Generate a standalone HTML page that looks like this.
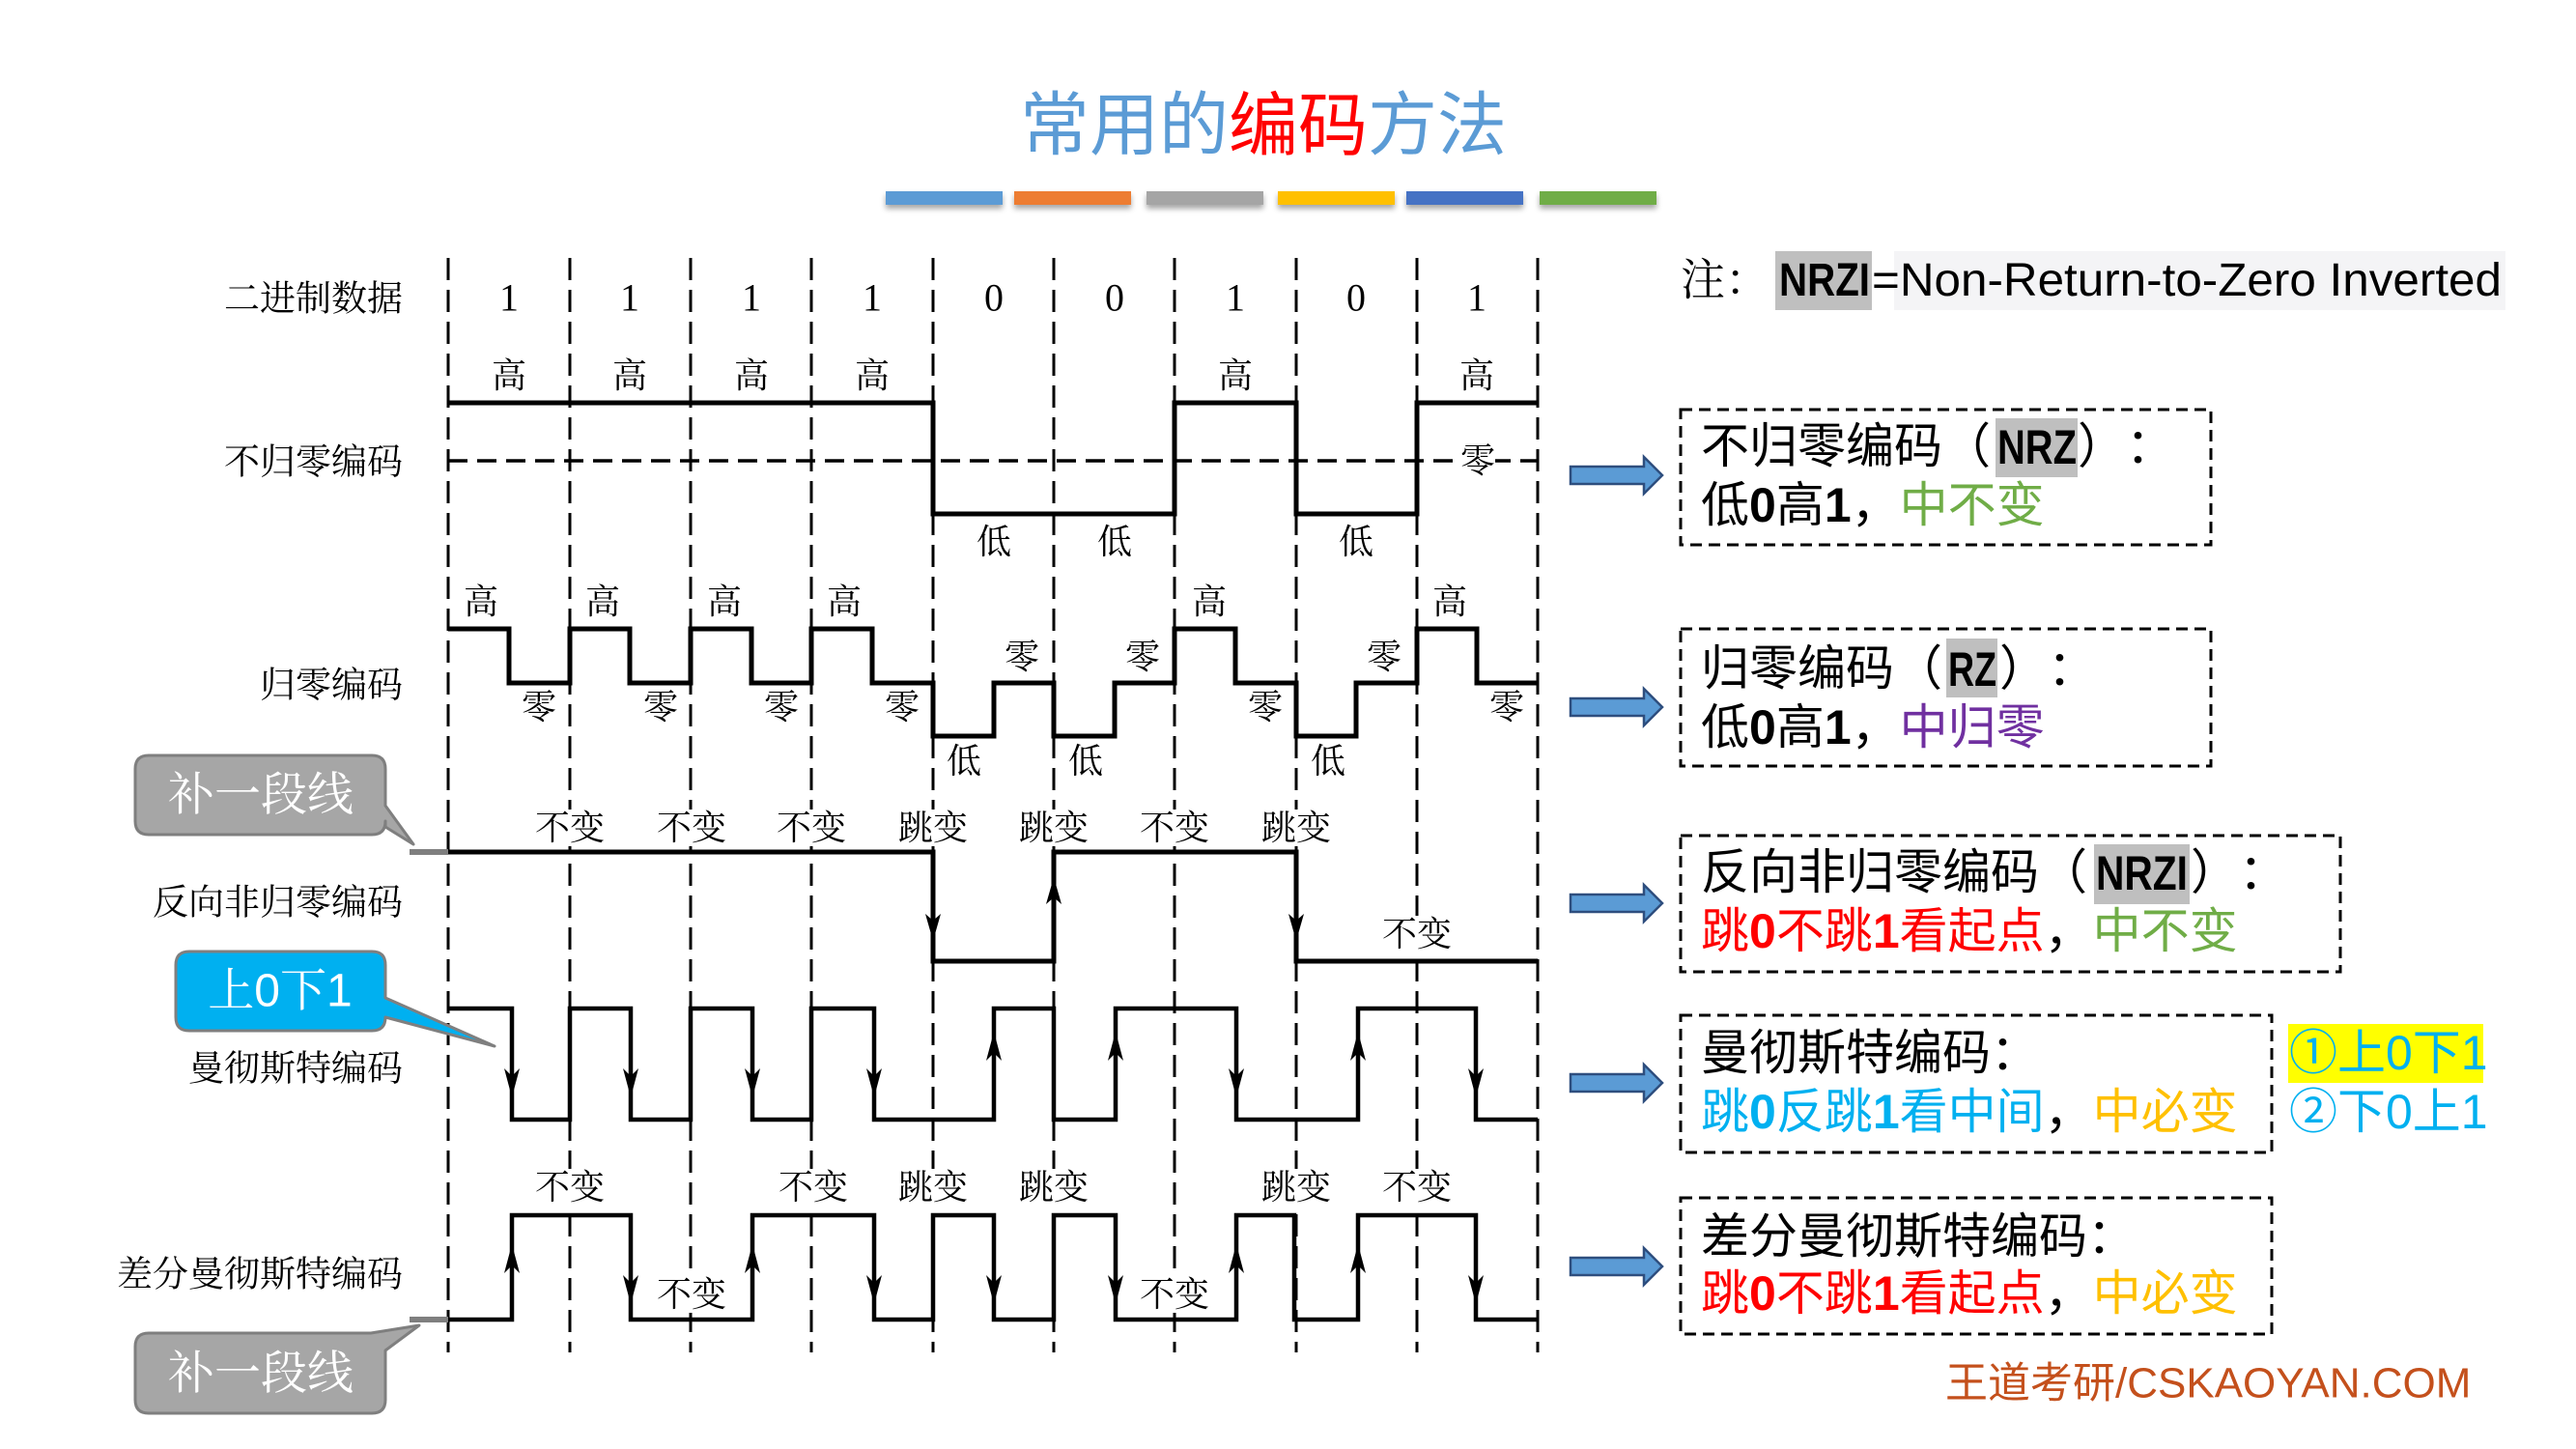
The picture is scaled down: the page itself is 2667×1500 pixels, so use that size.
<!DOCTYPE html>
<html><head><meta charset="utf-8">
<style>
html,body{margin:0;padding:0;background:#fff;}
svg{display:block;}
.lbl{font-family:"Liberation Serif","Noto Serif CJK SC",serif;font-size:37px;fill:#000;}
.wl{font-family:"Liberation Serif","Noto Serif CJK SC",serif;font-size:36px;fill:#000;}
.dg{font-family:"Liberation Serif",serif;font-size:40px;fill:#000;}
.bx{font-family:"Liberation Sans","Noto Sans CJK SC",sans-serif;font-size:50px;fill:#000;}
.b{font-weight:bold;}
</style></head>
<body>
<svg width="2667" height="1500" viewBox="0 0 2667 1500" xmlns="http://www.w3.org/2000/svg">
<defs>
<filter id="sh" x="-10%" y="-50%" width="120%" height="250%">
<feDropShadow dx="0" dy="4" stdDeviation="3" flood-color="#000" flood-opacity="0.35"/>
</filter>
</defs>
<rect width="2667" height="1500" fill="#fff"/>

<!-- Title -->
<text x="1308" y="123" text-anchor="middle" dominant-baseline="central" font-family="'Noto Sans CJK SC',sans-serif" font-size="72" fill="#5B9BD5">常用的<tspan fill="#FF0000">编码</tspan>方法</text>
<g filter="url(#sh)">
<rect x="917" y="198" width="121" height="14" fill="#5B9BD5"/>
<rect x="1050" y="198" width="121" height="14" fill="#ED7D31"/>
<rect x="1187" y="198" width="121" height="14" fill="#A5A5A5"/>
<rect x="1323" y="198" width="121" height="14" fill="#FFC000"/>
<rect x="1456" y="198" width="121" height="14" fill="#4472C4"/>
<rect x="1594" y="198" width="121" height="14" fill="#70AD47"/>
</g>

<!-- Vertical dashed lines -->
<g stroke="#000" stroke-width="3" stroke-dasharray="23 10">
<line x1="464" y1="267" x2="464" y2="1400"/>
<line x1="590" y1="267" x2="590" y2="1400"/>
<line x1="715" y1="267" x2="715" y2="1400"/>
<line x1="840" y1="267" x2="840" y2="1400"/>
<line x1="966" y1="267" x2="966" y2="1400"/>
<line x1="1091" y1="267" x2="1091" y2="1400"/>
<line x1="1216" y1="267" x2="1216" y2="1400"/>
<line x1="1342" y1="267" x2="1342" y2="1400"/>
<line x1="1467" y1="267" x2="1467" y2="1400"/>
<line x1="1592" y1="267" x2="1592" y2="1400"/>
</g>

<!-- Left labels -->
<g class="lbl" text-anchor="end" dominant-baseline="central">
<text x="417" y="310" class="lbl" dominant-baseline="central">二进制数据</text>
<text x="417" y="479" class="lbl" dominant-baseline="central">不归零编码</text>
<text x="417" y="710" class="lbl" dominant-baseline="central">归零编码</text>
<text x="417" y="935" class="lbl" dominant-baseline="central">反向非归零编码</text>
<text x="417" y="1107" class="lbl" dominant-baseline="central">曼彻斯特编码</text>
<text x="417" y="1320" class="lbl" dominant-baseline="central">差分曼彻斯特编码</text>
</g>

<!-- Digits -->
<g text-anchor="middle">
<text class="dg" x="527" y="308" dominant-baseline="central">1</text>
<text class="dg" x="652" y="308" dominant-baseline="central">1</text>
<text class="dg" x="778" y="308" dominant-baseline="central">1</text>
<text class="dg" x="903" y="308" dominant-baseline="central">1</text>
<text class="dg" x="1029" y="308" dominant-baseline="central">0</text>
<text class="dg" x="1154" y="308" dominant-baseline="central">0</text>
<text class="dg" x="1279" y="308" dominant-baseline="central">1</text>
<text class="dg" x="1404" y="308" dominant-baseline="central">0</text>
<text class="dg" x="1529" y="308" dominant-baseline="central">1</text>
</g>

<!-- NRZ -->
<line x1="464" y1="477" x2="1592" y2="477" stroke="#000" stroke-width="3.5" stroke-dasharray="20 10"/>
<path d="M464,417 H966 V532 H1216 V417 H1342 V532 H1467 V417 H1592" fill="none" stroke="#000" stroke-width="5"/>
<g text-anchor="middle">
<text class="wl" x="527" y="389" dominant-baseline="central">高</text>
<text class="wl" x="652" y="389" dominant-baseline="central">高</text>
<text class="wl" x="778" y="389" dominant-baseline="central">高</text>
<text class="wl" x="903" y="389" dominant-baseline="central">高</text>
<text class="wl" x="1279" y="389" dominant-baseline="central">高</text>
<text class="wl" x="1529" y="389" dominant-baseline="central">高</text>
<rect x="1512" y="458" width="36" height="38" fill="#fff"/>
<text class="wl" x="1530" y="477" dominant-baseline="central">零</text>
<text class="wl" x="1029" y="561" dominant-baseline="central">低</text>
<text class="wl" x="1154" y="561" dominant-baseline="central">低</text>
<text class="wl" x="1404" y="561" dominant-baseline="central">低</text>
</g>

<!-- RZ -->
<path d="M464,651 H527 V707 H590 V651 H652 V707 H715 V651 H778 V707 H840 V651 H903 V707 H966 V762 H1029 V707 H1091 V762 H1154 V707 H1216 V651 H1279 V707 H1342 V762 H1404 V707 H1467 V651 H1529 V707 H1592" fill="none" stroke="#000" stroke-width="5"/>
<g text-anchor="middle">
<text class="wl" x="498" y="623" dominant-baseline="central">高</text>
<text class="wl" x="624" y="623" dominant-baseline="central">高</text>
<text class="wl" x="750" y="623" dominant-baseline="central">高</text>
<text class="wl" x="874" y="623" dominant-baseline="central">高</text>
<text class="wl" x="1252" y="623" dominant-baseline="central">高</text>
<text class="wl" x="1501" y="623" dominant-baseline="central">高</text>
<text class="wl" x="558" y="732" dominant-baseline="central">零</text>
<text class="wl" x="684" y="732" dominant-baseline="central">零</text>
<text class="wl" x="809" y="732" dominant-baseline="central">零</text>
<text class="wl" x="934" y="732" dominant-baseline="central">零</text>
<text class="wl" x="1310" y="732" dominant-baseline="central">零</text>
<text class="wl" x="1560" y="732" dominant-baseline="central">零</text>
<text class="wl" x="1058" y="680" dominant-baseline="central">零</text>
<text class="wl" x="1183" y="680" dominant-baseline="central">零</text>
<text class="wl" x="1433" y="680" dominant-baseline="central">零</text>
<text class="wl" x="998" y="788" dominant-baseline="central">低</text>
<text class="wl" x="1124" y="788" dominant-baseline="central">低</text>
<text class="wl" x="1375" y="788" dominant-baseline="central">低</text>
</g>

<!-- NRZI -->
<line x1="424" y1="882" x2="464" y2="882" stroke="#7F7F7F" stroke-width="6"/>
<path d="M464,882 H966 V995 H1091 V882 H1342 V995 H1592" fill="none" stroke="#000" stroke-width="5"/>
<g fill="#000">
<polygon points="966,974 958,946 966,953 974,946"/>
<polygon points="1091,908 1083,936 1091,929 1099,936"/>
<polygon points="1342,974 1334,946 1342,953 1350,946"/>
</g>
<g fill="#fff">
<rect x="552" y="838" width="76" height="38"/>
<rect x="678" y="838" width="76" height="38"/>
<rect x="802" y="838" width="76" height="38"/>
<rect x="928" y="838" width="76" height="38"/>
<rect x="1053" y="838" width="76" height="38"/>
<rect x="1178" y="838" width="76" height="38"/>
<rect x="1304" y="838" width="76" height="38"/>
<rect x="1429" y="948" width="76" height="38"/>
</g>
<g text-anchor="middle">
<text class="wl" x="590" y="857" dominant-baseline="central">不变</text>
<text class="wl" x="716" y="857" dominant-baseline="central">不变</text>
<text class="wl" x="840" y="857" dominant-baseline="central">不变</text>
<text class="wl" x="966" y="857" dominant-baseline="central">跳变</text>
<text class="wl" x="1091" y="857" dominant-baseline="central">跳变</text>
<text class="wl" x="1216" y="857" dominant-baseline="central">不变</text>
<text class="wl" x="1342" y="857" dominant-baseline="central">跳变</text>
<text class="wl" x="1467" y="967" dominant-baseline="central">不变</text>
</g>

<!-- Manchester -->
<path d="M464,1044 H530 V1159 H590 V1044 H653 V1159 H715 V1044 H779 V1159 H840 V1044 H905 V1159 H1029 V1044 H1091 V1159 H1155 V1044 H1280 V1159 H1406 V1044 H1528 V1159 H1592" fill="none" stroke="#000" stroke-width="4.5"/>
<g fill="#000">
<polygon points="530,1136 522,1106 530,1114 538,1106"/>
<polygon points="653,1136 645,1106 653,1114 661,1106"/>
<polygon points="779,1136 771,1106 779,1114 787,1106"/>
<polygon points="905,1136 897,1106 905,1114 913,1106"/>
<polygon points="1280,1136 1272,1106 1280,1114 1288,1106"/>
<polygon points="1528,1136 1520,1106 1528,1114 1536,1106"/>
<polygon points="1029,1068 1021,1098 1029,1090 1037,1098"/>
<polygon points="1155,1068 1147,1098 1155,1090 1163,1098"/>
<polygon points="1406,1068 1398,1098 1406,1090 1414,1098"/>
</g>

<!-- Differential Manchester -->
<line x1="424" y1="1366" x2="464" y2="1366" stroke="#7F7F7F" stroke-width="6"/>
<path d="M464,1366 H530 V1258 H653 V1366 H779 V1258 H905 V1366 H966 V1258 H1029 V1366 H1091 V1258 H1155 V1366 H1280 V1258 H1340 V1366 H1406 V1258 H1528 V1366 H1592" fill="none" stroke="#000" stroke-width="4.5"/>
<g fill="#000">
<polygon points="530,1288 522,1318 530,1310 538,1318"/>
<polygon points="779,1288 771,1318 779,1310 787,1318"/>
<polygon points="1280,1288 1272,1318 1280,1310 1288,1318"/>
<polygon points="1406,1288 1398,1318 1406,1310 1414,1318"/>
<polygon points="653,1350 645,1320 653,1328 661,1320"/>
<polygon points="905,1350 897,1320 905,1328 913,1320"/>
<polygon points="1029,1350 1021,1320 1029,1328 1037,1320"/>
<polygon points="1155,1350 1147,1320 1155,1328 1163,1320"/>
<polygon points="1528,1350 1520,1320 1528,1328 1536,1320"/>
</g>
<g fill="#fff">
<rect x="552" y="1210" width="76" height="38"/>
<rect x="804" y="1210" width="76" height="38"/>
<rect x="928" y="1210" width="76" height="38"/>
<rect x="1053" y="1210" width="76" height="38"/>
<rect x="1304" y="1210" width="76" height="38"/>
<rect x="1429" y="1210" width="76" height="38"/>
<rect x="678" y="1321" width="76" height="38"/>
<rect x="1178" y="1321" width="76" height="38"/>
</g>
<g text-anchor="middle">
<text class="wl" x="590" y="1229" dominant-baseline="central">不变</text>
<text class="wl" x="842" y="1229" dominant-baseline="central">不变</text>
<text class="wl" x="966" y="1229" dominant-baseline="central">跳变</text>
<text class="wl" x="1091" y="1229" dominant-baseline="central">跳变</text>
<text class="wl" x="1342" y="1229" dominant-baseline="central">跳变</text>
<text class="wl" x="1467" y="1229" dominant-baseline="central">不变</text>
<text class="wl" x="716" y="1340" dominant-baseline="central">不变</text>
<text class="wl" x="1216" y="1340" dominant-baseline="central">不变</text>
</g>

<!-- Callouts -->
<g stroke="#7F7F7F" stroke-width="3" stroke-linejoin="round">
<path d="M154,782 H385 Q399,782 399,796 V834 L428,874 L399,856 V850 Q399,864 385,864 H154 Q140,864 140,850 V796 Q140,782 154,782 Z" fill="#A6A6A6"/>
<path d="M196,985 H385 Q399,985 399,999 V1033 L512,1083 L399,1053 Q399,1067 385,1067 H196 Q182,1067 182,1053 V999 Q182,985 196,985 Z" fill="#00B0F0"/>
<path d="M154,1380 H384 L434,1372 L399,1398 V1449 Q399,1463 385,1463 H154 Q140,1463 140,1449 V1394 Q140,1380 154,1380 Z" fill="#A6A6A6"/>
</g>
<text x="270" y="823" text-anchor="middle" dominant-baseline="central" font-family="'Liberation Serif','Noto Serif CJK SC',serif" font-size="48" fill="#fff">补一段线</text>
<text x="290" y="1026" text-anchor="middle" dominant-baseline="central" font-family="'Liberation Sans','Noto Serif CJK SC',serif" font-size="48" fill="#fff">上0下1</text>
<text x="270" y="1422" text-anchor="middle" dominant-baseline="central" font-family="'Liberation Serif','Noto Serif CJK SC',serif" font-size="48" fill="#fff">补一段线</text>

<!-- Note -->
<text x="1740" y="290" dominant-baseline="central" font-family="'Liberation Serif','Noto Serif CJK SC',serif" font-size="46" fill="#000">注：</text>
<rect x="1961" y="260" width="633" height="61" fill="#F4F4F6"/>
<rect x="1838" y="260" width="100" height="61" fill="#BFBFBF"/>
<text x="1842" y="306" font-family="'Liberation Sans',sans-serif" font-size="48" font-weight="bold" fill="#000" textLength="94" lengthAdjust="spacingAndGlyphs">NRZI</text>
<text x="1938" y="306" font-family="'Liberation Sans',sans-serif" font-size="48" fill="#000" textLength="652" lengthAdjust="spacingAndGlyphs">=Non-Return-to-Zero Inverted</text>

<!-- Block arrows -->
<g fill="#5B9BD5" stroke="#2E4E7E" stroke-width="2.5" stroke-linejoin="miter">
<polygon points="1626,483 1702,483 1702,473 1721,492 1702,511 1702,501 1626,501"/>
<polygon points="1626,723 1702,723 1702,713 1721,732 1702,751 1702,741 1626,741"/>
<polygon points="1626,926 1702,926 1702,916 1721,935 1702,954 1702,944 1626,944"/>
<polygon points="1626,1112 1702,1112 1702,1102 1721,1121 1702,1140 1702,1130 1626,1130"/>
<polygon points="1626,1302 1702,1302 1702,1292 1721,1311 1702,1330 1702,1320 1626,1320"/>
</g>

<!-- Dashed boxes -->
<g fill="none" stroke="#000" stroke-width="3" stroke-dasharray="12 7">
<rect x="1740" y="424" width="549" height="140"/>
<rect x="1740" y="651" width="549" height="142"/>
<rect x="1740" y="865" width="683" height="141"/>
<rect x="1740" y="1051" width="612" height="142"/>
<rect x="1740" y="1240" width="612" height="141"/>
</g>

<!-- Box 1 -->
<rect x="2066" y="433" width="85" height="61" fill="#BFBFBF"/>
<text class="bx" x="1761" y="462" dominant-baseline="central">不归零编码（</text>
<text class="bx b" x="2068" y="480" textLength="82" lengthAdjust="spacingAndGlyphs">NRZ</text>
<text class="bx" x="2151" y="462" dominant-baseline="central">）</text>
<text class="bx" x="2201" y="462" dominant-baseline="central">：</text>
<text class="bx" x="1761" y="523" dominant-baseline="central">低<tspan class="b">0</tspan>高<tspan class="b">1</tspan>，<tspan fill="#70AD47">中不变</tspan></text>

<!-- Box 2 -->
<rect x="2015" y="661" width="53" height="61" fill="#BFBFBF"/>
<text class="bx" x="1761" y="692" dominant-baseline="central">归零编码（</text>
<text class="bx b" x="2017" y="710" textLength="50" lengthAdjust="spacingAndGlyphs">RZ</text>
<text class="bx" x="2070" y="692" dominant-baseline="central">）</text>
<text class="bx" x="2120" y="692" dominant-baseline="central">：</text>
<text class="bx" x="1761" y="753" dominant-baseline="central">低<tspan class="b">0</tspan>高<tspan class="b">1</tspan>，<tspan fill="#7030A0">中归零</tspan></text>

<!-- Box 3 -->
<rect x="2168" y="874" width="99" height="62" fill="#BFBFBF"/>
<text class="bx" x="1761" y="903" dominant-baseline="central">反向非归零编码（</text>
<text class="bx b" x="2170" y="921" textLength="95" lengthAdjust="spacingAndGlyphs">NRZI</text>
<text class="bx" x="2268" y="903" dominant-baseline="central">）</text>
<text class="bx" x="2318" y="903" dominant-baseline="central">：</text>
<text class="bx" x="1761" y="964" dominant-baseline="central"><tspan fill="#FF0000">跳<tspan class="b">0</tspan>不跳<tspan class="b">1</tspan>看起点</tspan>，<tspan fill="#70AD47">中不变</tspan></text>

<!-- Box 4 -->
<text class="bx" x="1761" y="1090" dominant-baseline="central">曼彻斯特编码：</text>
<text class="bx" x="1761" y="1151" dominant-baseline="central"><tspan fill="#00B0F0">跳<tspan class="b">0</tspan>反跳<tspan class="b">1</tspan>看中间</tspan>，<tspan fill="#FFC000">中必变</tspan></text>
<rect x="2369" y="1060" width="202" height="61" fill="#FFFF00"/>
<text class="bx" x="2370" y="1090" dominant-baseline="central" style="fill:#00B0F0">①上0下1</text>
<text class="bx" x="2370" y="1151" dominant-baseline="central" style="fill:#00B0F0">②下0上1</text>

<!-- Box 5 -->
<text class="bx" x="1761" y="1280" dominant-baseline="central">差分曼彻斯特编码：</text>
<text class="bx" x="1761" y="1339" dominant-baseline="central"><tspan fill="#FF0000">跳<tspan class="b">0</tspan>不跳<tspan class="b">1</tspan>看起点</tspan>，<tspan fill="#FFC000">中必变</tspan></text>

<!-- Footer -->
<text x="2014" y="1432" dominant-baseline="central" font-family="'Liberation Sans','Noto Sans CJK SC',sans-serif" font-size="44" fill="#C4501C">王道考研/CSKAOYAN.COM</text>
</svg>
</body></html>
